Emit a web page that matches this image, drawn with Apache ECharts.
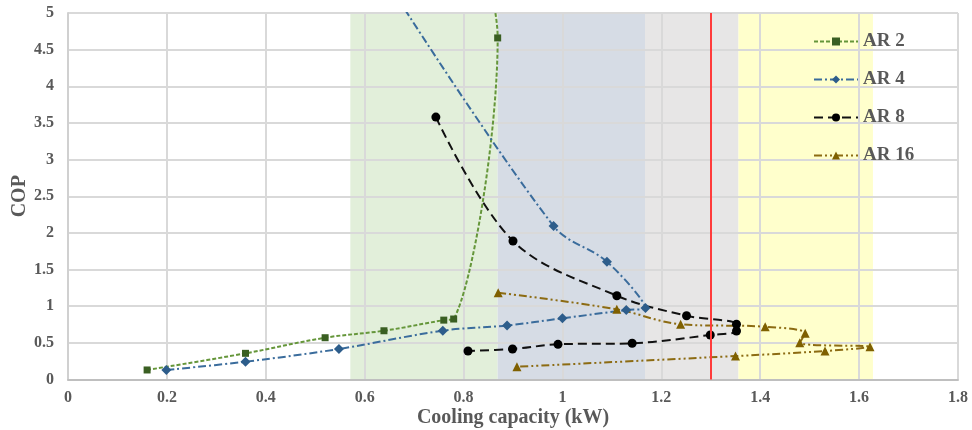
<!DOCTYPE html>
<html><head><meta charset="utf-8">
<script src="https://cdn.jsdelivr.net/npm/echarts@6/dist/echarts.min.js"></script>
<style>html,body{margin:0;padding:0;background:#fff}#c{width:972px;height:430px}</style>
</head><body><div id="c"></div>
<script>
// Data (x = cooling capacity kW, y = COP)
const seriesNames = ['AR 2', 'AR 4', 'AR 8', 'AR 16'];
const ar2 = [[0.160,0.13],[0.359,0.357],[0.520,0.57],[0.639,0.665],[0.760,0.81],[0.780,0.825],[0.869,4.66],[0.80,6.5]];
const ar4 = [[0.199,0.13],[0.359,0.243],[0.548,0.416],[0.758,0.666],[0.888,0.737],[1.000,0.835],[1.129,0.948],[1.168,0.975],[1.090,1.607],[0.982,2.094],[0.61,5.8]];
const ar8 = [[0.744,3.58],[0.900,1.89],[1.110,1.143],[1.251,0.870],[1.352,0.753],[1.352,0.662],[1.299,0.607],[1.141,0.494],[0.991,0.48],[0.899,0.416],[0.809,0.389]];
const ar16 = [[0.870,1.184],[1.110,0.958],[1.239,0.753],[1.410,0.72],[1.491,0.63],[1.480,0.502],[1.622,0.447],[1.531,0.389],[1.350,0.32],[0.908,0.175]];
const bandEdges = [0.571, 0.869, 1.167, 1.356, 1.628];
const redLineX = 1.302;
const xTicks = [0, 1.8, 0.2];
const yTicks = [0, 5, 0.5];

const bandColors = ['#e2efda', '#d6dce5', '#e7e6e6', '#ffffcc'];
const font = 'Liberation Serif';
const grey = '#595959';

const bandAreas = [];
for (let i = 0; i < bandEdges.length - 1; i++) {
  bandAreas.push([{xAxis: bandEdges[i], yAxis: yTicks[0], itemStyle: {color: bandColors[i]}}, {xAxis: bandEdges[i+1], yAxis: yTicks[1]}]);
}

const styles = [
  {symbol: 'rect', size: 7, mc: '#3a5f22', lc: '#65963a', type: [4, 2]},
  {symbol: 'diamond', size: 10, mc: '#2d5d8b', lc: '#3a6c9c', type: [8, 3, 2, 3]},
  {symbol: 'circle', size: 9, mc: '#000000', lc: '#111111', type: [9, 5]},
  {symbol: 'triangle', size: 9, mc: '#7f6000', lc: '#8c6b12', type: [8, 3, 2, 3, 2, 3]}
];
const datas = [ar2, ar4, ar8, ar16];

const series = [{
  name: 'bands', type: 'line', data: [], z: 1, silent: true,
  markArea: {silent: true, data: bandAreas},
  markLine: {silent: true, symbol: ['none', 'none'], label: {show: false},
    lineStyle: {color: '#ff3b3b', width: 2, type: 'solid'}, data: [{xAxis: redLineX}]}
}];
datas.forEach((d, i) => {
  const s = styles[i];
  series.push({
    name: seriesNames[i], type: 'line', data: d, z: 3, smooth: 0.35, clip: true,
    symbol: s.symbol, symbolSize: s.size,
    itemStyle: {color: s.mc},
    lineStyle: {color: s.lc, width: 2, type: s.type}
  });
});

const chart = echarts.init(document.getElementById('c'), null, {renderer: 'canvas'});
chart.setOption({
  animation: false,
  backgroundColor: '#ffffff',
  grid: {left: 68, right: 14, top: 13, bottom: 50.5, containLabel: false, outerBoundsMode: 'none'},
  legend: {
    data: seriesNames, orient: 'vertical', left: 808, top: 27,
    itemWidth: 44, itemHeight: 10, itemGap: 19,
    textStyle: {fontFamily: font, fontWeight: 'bold', fontSize: 19, color: grey}
  },
  xAxis: {
    type: 'value', min: xTicks[0], max: xTicks[1], interval: xTicks[2], z: 2,
    name: 'Cooling capacity (kW)', nameLocation: 'middle', nameGap: 28, nameMoveOverlap: false,
    nameTextStyle: {fontFamily: font, fontWeight: 'bold', fontSize: 20, color: grey},
    axisLine: {lineStyle: {color: '#bfbfbf', width: 2}},
    axisTick: {show: false},
    axisLabel: {fontFamily: font, fontWeight: 'bold', fontSize: 16, color: grey, margin: 10},
    splitLine: {show: true, lineStyle: {color: '#d9d9d9', width: 2}}
  },
  yAxis: {
    type: 'value', min: yTicks[0], max: yTicks[1], interval: yTicks[2], z: 2,
    name: 'COP', nameLocation: 'middle', nameGap: 38, nameMoveOverlap: false,
    nameTextStyle: {fontFamily: font, fontWeight: 'bold', fontSize: 20, color: grey},
    axisLine: {show: true, lineStyle: {color: '#d0d0d0', width: 2}},
    axisTick: {show: false},
    axisLabel: {fontFamily: font, fontWeight: 'bold', fontSize: 16, color: grey, margin: 14},
    splitLine: {show: true, lineStyle: {color: '#d9d9d9', width: 2}}
  },
  series: series
});
</script></body></html>
